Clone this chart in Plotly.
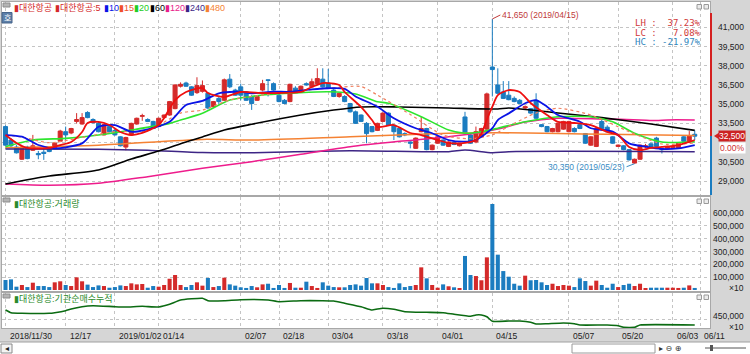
import plotly.graph_objects as go

# ---------------- data ----------------
tick_idx = [0, 11, 20, 28, 43, 50, 59, 69, 79, 89, 103, 112, 122, 127]
tick_text = ["2018/11/30", "12/17", "2019/01/02", "01/14", "02/07", "02/18",
             "03/04", "03/18", "04/01", "04/15", "05/07", "05/20", "06/03", "06/11"]

opens = [33250, 32200, 31650, 30700, 31650, 31400, 31150, 31250, 31550, 31550,
         32100, 32850, 32750, 33650, 33450, 34350, 33800, 33500, 32600, 33250,
         32950, 32450, 31650, 32600, 33450, 34050, 33800, 33650, 33250, 33950,
         34150, 34650, 36400, 36650, 36350, 35900, 36000, 35850, 34800, 35450,
         35300, 36950, 36100, 36350, 35950, 35600, 35300, 36100, 36900, 36600,
         35700, 35300, 35200, 36250, 35950, 36600, 36350, 36600, 36950, 36650,
         36100, 35600, 35600, 35050, 34400, 34150, 33500, 33250, 32950, 33650,
         34300, 33350, 33100, 32700, 32050, 31550, 32850, 33100, 31450, 31950,
         32200, 31700, 32000, 31750, 34000, 32600, 32050, 32450, 33050, 37900,
         36500, 35950, 35700, 35450, 35300, 34700, 34650, 35300, 33400, 33250,
         32850, 32850, 33050, 32850, 33100, 33400, 32700, 31800, 31700, 33650,
         33200, 32450, 31700, 31750, 31450, 30400, 30700, 31650, 31900, 32350,
         31550, 31500, 31600, 31550, 32450, 32050, 32650]
highs = [33350, 32350, 31800, 31700, 31750, 32600, 31350, 31600, 31650, 32000,
         33000, 33250, 33150, 34300, 34300, 34450, 33900, 33600, 33450, 33400,
         33050, 32500, 32450, 33550, 33950, 34250, 33900, 33700, 33950, 34200,
         35250, 36550, 36700, 36750, 36400, 37100, 36850, 35950, 35250, 35600,
         37000, 37350, 36200, 36600, 36000, 35700, 35650, 36900, 36950, 36700,
         35800, 35400, 36600, 36400, 36450, 36700, 37000, 37800, 37800, 37750,
         36200, 35900, 35700, 35100, 34500, 34200, 33600, 33300, 33550, 34350,
         34350, 33450, 33200, 32800, 32100, 32400, 34000, 33150, 31850, 32500,
         32250, 32100, 32100, 31950, 34400, 32650, 33250, 33150, 35900, 41650,
         37800, 36800, 36800, 35600, 35400, 34900, 34700, 35850, 33450, 33300,
         33150, 33550, 33700, 33700, 33200, 33500, 32750, 32500, 33200, 33900,
         33350, 32500, 31850, 31800, 31500, 30750, 31850, 31900, 32000, 32450,
         31600, 31750, 31800, 32000, 32550, 32900, 32950]
lows = [31750, 31600, 31150, 30650, 30700, 31350, 30700, 30650, 31250, 31500,
        32050, 32200, 32650, 33500, 33400, 33900, 33500, 32800, 32550, 32800,
        32550, 31700, 31400, 32550, 33400, 33700, 33600, 33050, 33200, 33900,
        34100, 34600, 36300, 36350, 35650, 35800, 35900, 34600, 34750, 35000,
        35250, 36250, 35650, 35300, 35250, 34550, 35250, 36000, 35600, 36050,
        35150, 35000, 35150, 35900, 35900, 36450, 36300, 36550, 36300, 36200,
        35550, 35500, 35150, 34350, 33450, 33600, 31950, 32800, 32900, 33600,
        33300, 32200, 32400, 32500, 31550, 31500, 32800, 31400, 31400, 31900,
        31750, 31650, 31800, 31700, 32650, 31900, 31950, 32400, 33000, 35600,
        35800, 35400, 35300, 35150, 35000, 34600, 34250, 33850, 33200, 32800,
        32800, 32800, 33000, 32800, 32800, 33050, 31900, 31750, 31650, 33050,
        32800, 31900, 31650, 31400, 30600, 30350, 30650, 31550, 31550, 31600,
        31150, 31450, 31500, 31500, 32050, 32000, 32200]
closes = [31800, 31750, 31200, 31650, 30750, 31750, 31050, 31150, 31300, 31950,
          32900, 32600, 33100, 33800, 33950, 33950, 33550, 32850, 33400, 32850,
          32600, 31750, 32400, 33500, 33900, 34100, 33650, 33100, 33900, 34150,
          35200, 36500, 36550, 36400, 35700, 36450, 36450, 34700, 35200, 35200,
          36900, 36350, 35700, 35700, 35300, 35050, 35600, 36600, 36850, 36100,
          35200, 35050, 36550, 35950, 36400, 36500, 36750, 37000, 36350, 36250,
          35600, 35850, 35200, 34400, 33500, 33650, 32700, 32850, 33500, 34300,
          33350, 32850, 32450, 32600, 31950, 32350, 33100, 31450, 31800, 32450,
          31800, 32050, 31850, 31900, 32700, 31950, 32850, 33100, 35800, 37700,
          35850, 35450, 35350, 35200, 35050, 34800, 34300, 33900, 33250, 32850,
          33100, 33500, 33650, 33650, 32850, 33100, 31950, 32450, 33100, 33100,
          32850, 31950, 31800, 31450, 30650, 30700, 31800, 31750, 31600, 31700,
          31450, 31700, 31700, 31950, 32100, 32500, 32500]
volumes = [78000, 83000, 26000, 39000, 23000, 57000, 31000, 31000, 23000, 60000,
           68000, 39000, 31000, 99000, 68000, 42000, 23000, 36000, 31000, 18000,
           23000, 36000, 31000, 52000, 44000, 47000, 18000, 31000, 26000, 39000,
           88000, 117000, 39000, 23000, 39000, 60000, 34000, 94000, 23000, 31000,
           96000, 44000, 34000, 21000, 16000, 31000, 21000, 44000, 49000, 16000,
           39000, 16000, 55000, 18000, 18000, 65000, 31000, 16000, 60000, 34000,
           23000, 21000, 21000, 39000, 44000, 34000, 94000, 52000, 52000, 39000,
           23000, 16000, 52000, 23000, 31000, 39000, 177000, 91000, 39000, 18000,
           44000, 29000, 21000, 13000, 266000, 117000, 109000, 76000, 255000, 672000,
           276000, 148000, 104000, 49000, 34000, 112000, 76000, 78000, 60000, 39000,
           49000, 31000, 39000, 34000, 23000, 91000, 70000, 34000, 73000, 39000,
           18000, 49000, 23000, 39000, 49000, 31000, 49000, 13000, 18000, 18000,
           18000, 18000, 18000, 16000, 18000, 36000, 16000]

ma5_idx = [0, 2, 4, 8, 10, 12, 14, 15, 17, 19, 21, 23, 25, 28, 29, 31, 33, 36, 37, 40,
           43, 47, 50, 54, 56, 58, 61, 62, 65, 67, 68, 71, 74, 76, 79, 81, 84, 86, 87, 88,
           89, 90, 92, 94, 96, 99, 101, 104, 107, 110, 112, 114, 116, 118, 120, 123, 125, 126]
ma5_val = [32590, 31970, 31580, 31580, 31810, 32050, 32830, 33530, 33610, 33370,
           32830, 32590, 32750, 33370, 33920, 35320, 35950, 36260, 35870, 35560,
           35950, 35870, 35870, 35950, 36340, 36650, 36500, 35950, 34780, 33760,
           33220, 33370, 32750, 32590, 32200, 31970, 31970, 32200, 32700, 33800,
           34800, 35700, 36100, 35950, 35090, 34150, 33610, 33530, 33370, 32830,
           32590, 31660, 31420, 31580, 31660, 31810, 32050, 32200]
ma10_idx = [0, 3, 6, 9, 11, 14, 15, 17, 20, 23, 26, 30, 33, 36, 39, 43, 45, 49, 52, 56,
            59, 62, 64, 68, 71, 75, 78, 81, 84, 86, 89, 90, 92, 95, 97, 99, 101, 105, 107, 111,
            114, 117, 120, 123, 126]
ma10_val = [32590, 32460, 31810, 31550, 31630, 31940, 32330, 33240, 33370, 32850,
            33040, 33630, 34930, 35250, 35850, 35970, 35850, 35970, 35970, 36150,
            36240, 36200, 35600, 34800, 33900, 33120, 32730, 32200, 32070, 32200,
            33120, 33760, 34280, 35070, 35320, 34800, 34150, 33630, 33120, 32850,
            31940, 31680, 31500, 31550, 31810]
ma15_idx = [0, 3, 8, 14, 20, 26, 32, 36, 41, 50, 59, 65, 68, 74, 80, 85, 89, 93, 97, 101,
            107, 114, 117, 120, 126]
ma15_val = [32590, 32430, 31990, 32400, 32850, 32930, 34300, 34540, 35320, 35870,
            36240, 36370, 35710, 34200, 32590, 32300, 32600, 33500, 34310, 34680,
            34150, 32850, 32330, 31890, 31960]
ma20_idx = [0, 5, 11, 17, 23, 30, 32, 36, 41, 45, 47, 53, 59, 64, 68, 70, 76, 81, 84, 87,
            90, 95, 101, 107, 111, 115, 120, 126]
ma20_val = [31680, 32200, 32330, 32590, 32980, 33500, 33760, 34290, 35320, 35600,
            35710, 35870, 35970, 35800, 35190, 35070, 34020, 32980, 32730, 32850,
            33120, 33630, 34020, 34020, 33630, 32730, 32050, 32070]
ma60_idx = [0, 8, 17, 23, 28, 33, 36, 40, 45, 54, 60, 65, 72, 81, 90, 92, 101, 109, 118, 126]
ma60_val = [28770, 29390, 29860, 30720, 31340, 32050, 32440, 32980, 33430, 34150,
            34540, 34780, 34780, 34700, 34620, 34700, 34310, 33950, 33450, 32950]
ma120_idx = [0, 8, 17, 26, 36, 45, 54, 63, 72, 81, 87, 90, 95, 101, 109, 116, 119, 121, 126]
ma120_val = [28770, 28670, 28820, 29340, 29990, 30510, 31090, 31680, 32100, 32460,
             32800, 33050, 33600, 33900, 33850, 33770, 33720, 33770, 33770]
ma240_idx = [0, 17, 26, 36, 45, 63, 81, 84, 89, 92, 126]
ma240_val = [31500, 31480, 31400, 31220, 31210, 31360, 31290, 31420, 31210, 31290, 31290]
ma480_idx = [0, 17, 36, 45, 63, 81, 90, 101, 110, 126]
ma480_val = [31600, 31800, 32250, 32200, 32460, 32720, 32770, 32700, 32650, 32560]

inst_idx = [0, 1, 3, 8, 9, 11, 12, 14, 16, 20, 22, 25, 28, 30, 32, 36, 37, 40, 43, 48,
            50, 54, 58, 60, 62, 65, 67, 68, 69, 71, 73, 77, 80, 82, 85, 86, 87, 88, 89, 92,
            94, 96, 97, 99, 102, 104, 105, 110, 112, 113, 115, 116, 126]
inst_val = [496500, 483000, 480000, 480000, 483000, 493000, 501500, 513000, 518000, 513000,
            511500, 515000, 511500, 525000, 546500, 555000, 543000, 543000, 548000, 546500,
            538000, 543000, 543000, 541500, 530000, 513000, 496500, 501500, 505000, 500000,
            488000, 485000, 483000, 475000, 465000, 471500, 471500, 463000, 440000, 441500,
            441500, 435000, 426500, 428000, 431500, 428000, 421500, 421500, 418000, 410000,
            410000, 421500, 421500]

price_ticks = [29000, 30500, 32000, 33500, 35000, 36500, 38000, 39500, 41000]
vol_ticks = [100000, 200000, 300000, 400000, 500000, 600000]
inst_ticks = [450000]
last_price = 32500
high_point = (89, 41650, "41,650 (2019/04/15)")
low_point = (115, 30350, "30,350 (2019/05/23)")
stats = ["LH :  37.23%", "LC :   7.08%", "HC : -21.97%"]

# ---------------- styling / layout helpers ----------------
W, H = 750, 354
ML, MR = 2, 40
PW = W - ML - MR


def fx(px):
    return (px - ML) / PW


def fy(py):
    return 1 - py / H


RED = "#d42a2a"
BLUE = "#1b7cc0"
GRID = "#c4c4c4"
FONT = "Liberation Sans, Arial, sans-serif"
KFONT = "Liberation Sans, Noto Sans CJK KR, sans-serif"
AX_SIZE = 8.5

days = list(range(len(opens)))
bar_colors = [RED if c >= o else BLUE for o, c in zip(opens, closes)]

fig = go.Figure()
fig.add_trace(go.Candlestick(
    x=days, open=opens, high=highs, low=lows, close=closes,
    increasing=dict(line=dict(color=RED, width=1), fillcolor=RED),
    decreasing=dict(line=dict(color=BLUE, width=1), fillcolor=BLUE),
    whiskerwidth=0, xaxis="x", yaxis="y", hoverinfo="skip"))

ma_specs = [
    (ma480_idx, ma480_val, "#f58233", 1.5, "solid"),
    (ma240_idx, ma240_val, "#3d2585", 1.5, "solid"),
    (ma120_idx, ma120_val, "#ee1c8c", 1.5, "solid"),
    (ma60_idx, ma60_val, "#000000", 1.6, "solid"),
    (ma20_idx, ma20_val, "#2ee52e", 1.6, "solid"),
    (ma15_idx, ma15_val, "#f08060", 1.2, "dot"),
    (ma10_idx, ma10_val, "#0a14e6", 1.8, "solid"),
    (ma5_idx, ma5_val, "#ee0f0f", 1.8, "solid"),
]
for xs, vs, col, w, dash in ma_specs:
    fig.add_trace(go.Scatter(x=xs, y=vs, mode="lines", xaxis="x", yaxis="y",
                             line=dict(color=col, width=w, dash=dash, shape="spline", smoothing=0.7),
                             hoverinfo="skip"))

fig.add_trace(go.Bar(x=days, y=volumes, marker=dict(color=bar_colors, line=dict(width=0)),
                     width=0.74, xaxis="x2", yaxis="y2", hoverinfo="skip"))
fig.add_trace(go.Scatter(x=inst_idx, y=inst_val, mode="lines", xaxis="x3", yaxis="y3",
                         line=dict(color="#0b6b12", width=1.6, shape="spline", smoothing=0.4),
                         hoverinfo="skip"))

# axis ranges derived from the reference pixel scale
XMIN, XMAX = -0.64, 128.79
PMIN, PMAX = 27908, 42975
VMIN, VMAX = -7800, 726500
IMIN, IMAX = 406500, 581500

xcommon = dict(range=[XMIN, XMAX], tickvals=tick_idx, showgrid=True, gridcolor=GRID,
               griddash="dot", gridwidth=1, zeroline=False, showline=True,
               linecolor="#a8a8a8", mirror=True, ticks="", showticklabels=False, fixedrange=True)
ycommon = dict(side="right", showgrid=True, gridcolor=GRID, griddash="dot", gridwidth=1,
               zeroline=False, showline=True, linecolor="#a8a8a8", mirror=True,
               ticks="", showticklabels=False, fixedrange=True)

fig.update_layout(
    width=W, height=H, margin=dict(l=ML, r=MR, t=0, b=0),
    paper_bgcolor="#d6d6d6", plot_bgcolor="#ffffff", template="none",
    showlegend=False, hovermode=False, boxgap=0.26, boxgroupgap=0,
    font=dict(family=FONT, size=10, color="#222222"),
    xaxis=dict(xcommon, domain=[0, 1], anchor="y", rangeslider=dict(visible=False)),
    xaxis2=dict(xcommon, domain=[0, 1], anchor="y2"),
    xaxis3=dict(xcommon, domain=[0, 1], anchor="y3"),
    yaxis=dict(ycommon, domain=[fy(195), fy(2)], anchor="x", range=[PMIN, PMAX],
               tickvals=price_ticks),
    yaxis2=dict(ycommon, domain=[fy(291), fy(197)], anchor="x2", range=[VMIN, VMAX],
                tickvals=vol_ticks),
    yaxis3=dict(ycommon, domain=[fy(328), fy(293)], anchor="x3", range=[IMIN, IMAX],
                tickvals=inst_ticks),
)

shapes = []
# bottom toolbar
shapes.append(dict(type="rect", xref="paper", yref="paper", x0=fx(0), x1=fx(750),
                   y0=fy(354), y1=fy(342), fillcolor="#ffffff", line=dict(width=0), layer="below"))
shapes.append(dict(type="line", xref="paper", yref="paper", x0=fx(0), x1=fx(750),
                   y0=fy(342), y1=fy(342), line=dict(color="#a0a0a0", width=1)))
shapes.append(dict(type="rect", xref="paper", yref="paper", x0=fx(1), x1=fx(12),
                   y0=fy(353), y1=fy(344), fillcolor="#f4f4f4", line=dict(color="#8a8a8a", width=1)))
shapes.append(dict(type="rect", xref="paper", yref="paper", x0=fx(572), x1=fx(655),
                   y0=fy(353), y1=fy(344), fillcolor="#ffffff", line=dict(color="#9a9a9a", width=1)))
shapes.append(dict(type="line", xref="paper", yref="paper", x0=fx(705), x1=fx(746),
                   y0=fy(348), y1=fy(348), line=dict(color="#555555", width=1)))
shapes.append(dict(type="rect", xref="paper", yref="paper", x0=fx(710), x1=fx(713),
                   y0=fy(351), y1=fy(345), fillcolor="#555555", line=dict(width=0)))
# price range bar on the axis edge
shapes.append(dict(type="line", xref="paper", yref="paper", x0=fx(711), x1=fx(711),
                   y0=fy(136), y1=fy(13), line=dict(color="#d42020", width=2)))
shapes.append(dict(type="line", xref="paper", yref="paper", x0=fx(711), x1=fx(711),
                   y0=fy(195), y1=fy(136), line=dict(color="#1b7cc0", width=2)))
shapes.append(dict(type="path", xref="paper", yref="paper",
                   path=f"M {fx(714)},{fy(136)} L {fx(720)},{fy(132)} L {fx(720)},{fy(140)} Z",
                   fillcolor="#d42020", line=dict(width=0)))
# panel header icons
for top in (3, 198, 294):
    shapes.append(dict(type="rect", xref="paper", yref="paper", x0=fx(3), x1=fx(10),
                       y0=fy(top + 4), y1=fy(top), fillcolor="#b4b4b4", line=dict(color="#8c8c8c", width=1)))
for top in (4.5, 199, 295):
    for x0 in (697, 704):
        shapes.append(dict(type="rect", xref="paper", yref="paper", x0=fx(x0), x1=fx(x0 + 4.5),
                           y0=fy(top + 4.5), y1=fy(top), fillcolor="#ececec",
                           line=dict(color="#9a9a9a", width=1)))
shapes.append(dict(type="rect", xref="paper", yref="paper", x0=fx(2), x1=fx(12),
                   y0=fy(23), y1=fy(12.5), fillcolor="#5d7fa8", line=dict(color="#46648a", width=1)))
fig.update_layout(shapes=shapes)

ann = []
# right-hand axis labels, right aligned like the reference
for v in price_ticks:
    if abs(v - last_price) < 700:
        continue  # hidden behind the current-price box in the reference
    ann.append(dict(xref="paper", yref="y", x=fx(746), y=v, text=f"{v:,}", showarrow=False,
                    xanchor="right", yanchor="middle", font=dict(family=FONT, size=AX_SIZE, color="#222222")))
for v in vol_ticks:
    ann.append(dict(xref="paper", yref="y2", x=fx(746), y=v, text=f"{v:,}", showarrow=False,
                    xanchor="right", yanchor="middle", font=dict(family=FONT, size=AX_SIZE, color="#222222")))
for v in inst_ticks:
    ann.append(dict(xref="paper", yref="y3", x=fx(746), y=v, text=f"{v:,}", showarrow=False,
                    xanchor="right", yanchor="middle", yshift=3,
                    font=dict(family=FONT, size=AX_SIZE, color="#222222")))
ann.append(dict(xref="paper", yref="paper", x=fx(746), y=fy(287.5), text="×10", showarrow=False,
                xanchor="right", yanchor="middle", font=dict(family=FONT, size=AX_SIZE, color="#222222")))
ann.append(dict(xref="paper", yref="paper", x=fx(746), y=fy(326.5), text="×10", showarrow=False,
                xanchor="right", yanchor="middle", font=dict(family=FONT, size=AX_SIZE, color="#222222")))
# date labels, left aligned at their grid line
for i, t in zip(tick_idx, tick_text):
    ann.append(dict(xref="x3", yref="paper", x=i, y=fy(335.5), text=t, showarrow=False,
                    xanchor="left", yanchor="middle", xshift=2,
                    font=dict(family=FONT, size=AX_SIZE, color="#222222")))

legend_items = [("▮대한항공", RED, 12), ("▮대한항공:5", RED, 53), ("▮10", "#0a14e6", 102),
                ("▮15", "#f0502a", 117), ("▮20", "#22cc22", 132), ("▮60", "#000000", 148),
                ("▮120", "#e8208a", 163), ("▮240", "#3d2585", 183), ("▮480", "#f58233", 203)]
for txt, col, xp in legend_items:
    ann.append(dict(xref="paper", yref="paper", x=fx(xp), y=fy(8.5), text=txt, showarrow=False,
                    xanchor="left", yanchor="middle", font=dict(family=KFONT, size=9, color=col)))
ann.append(dict(xref="paper", yref="paper", x=fx(7), y=fy(17.8), text="호", showarrow=False,
                xanchor="center", yanchor="middle", font=dict(family="Noto Sans CJK KR", size=8, color="#ffffff")))
ann.append(dict(xref="paper", yref="paper", x=fx(12), y=fy(203), text="▮대한항공:거래량", showarrow=False,
                xanchor="left", yanchor="middle", font=dict(family=KFONT, size=9, color="#2b8a2b")))
ann.append(dict(xref="paper", yref="paper", x=fx(12), y=fy(298.5), text="▮대한항공:기관순매수누적",
                showarrow=False, xanchor="left", yanchor="middle",
                font=dict(family=KFONT, size=9, color="#2b8a2b")))
stat_cols = ["#d03a3a", "#d03a3a", "#2f86bd"]
for k, (txt, col) in enumerate(zip(stats, stat_cols)):
    ann.append(dict(xref="paper", yref="paper", x=fx(703), y=fy(23 + k * 9.5), text=txt,
                    showarrow=False, xanchor="right", yanchor="middle",
                    font=dict(family="DejaVu Sans Mono", size=9, color=col)))
ann.append(dict(xref="x", yref="y", x=high_point[0], y=high_point[1], text=high_point[2],
                showarrow=True, arrowhead=0, arrowwidth=1, arrowcolor="#c03a3a", ax=8, ay=-4,
                xanchor="left", yanchor="middle", font=dict(family=FONT, size=AX_SIZE, color="#c03a3a")))
ann.append(dict(xref="x", yref="y", x=low_point[0], y=low_point[1], text=low_point[2],
                showarrow=True, arrowhead=0, arrowwidth=1, arrowcolor="#3a8cc4", ax=-8, ay=3,
                xanchor="right", yanchor="middle", font=dict(family=FONT, size=AX_SIZE, color="#3a8cc4")))
ann.append(dict(xref="paper", yref="paper", x=fx(746), y=fy(136), text=f"{last_price:,}",
                showarrow=False, xanchor="right", yanchor="middle", bgcolor="#cc2222", borderpad=0,
                font=dict(family=FONT, size=AX_SIZE, color="#ffffff")))
ann.append(dict(xref="paper", yref="paper", x=fx(746), y=fy(147.5), text="0.00%",
                showarrow=False, xanchor="right", yanchor="middle", bgcolor="#ffffff", borderpad=0,
                font=dict(family=FONT, size=AX_SIZE, color="#d03030")))
ann.append(dict(xref="paper", yref="paper", x=fx(6.5), y=fy(348.5), text="◂", showarrow=False,
                xanchor="center", yanchor="middle", font=dict(family="DejaVu Sans", size=8, color="#222222")))
ann.append(dict(xref="paper", yref="paper", x=fx(657), y=fy(348.5), text="▸ ⊖ ⊕", showarrow=False,
                xanchor="left", yanchor="middle", font=dict(family="DejaVu Sans", size=8, color="#333333")))
fig.update_layout(annotations=ann)

fig.write_html("out.html")
